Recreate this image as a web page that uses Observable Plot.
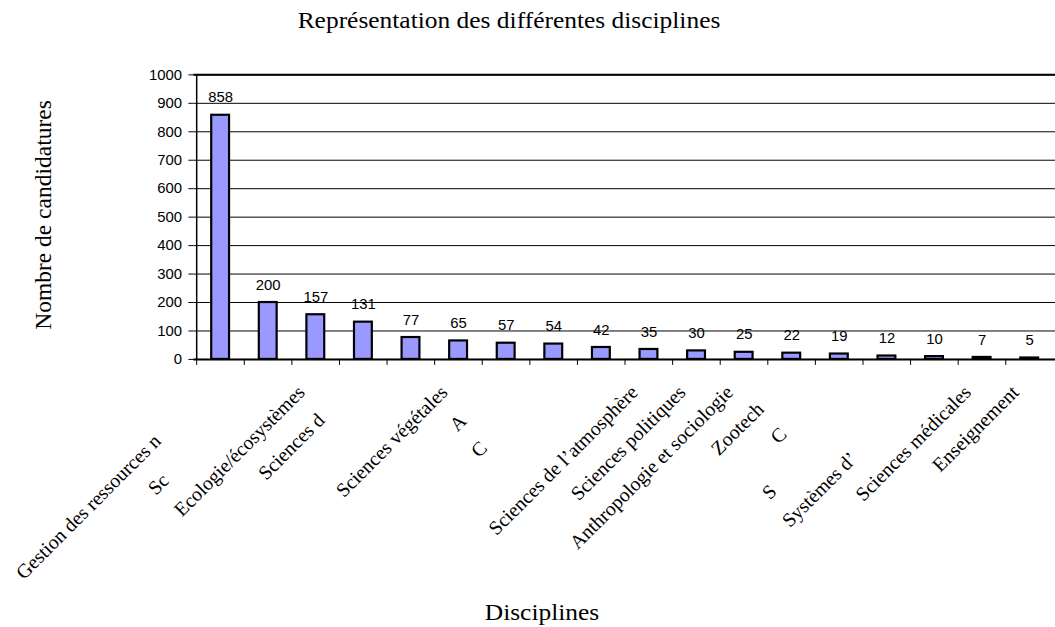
<!DOCTYPE html>
<html>
<head>
<meta charset="utf-8">
<script src="https://cdn.jsdelivr.net/npm/d3@7"></script>
<script src="https://cdn.jsdelivr.net/npm/@observablehq/plot@0.6"></script>
<style>
  html, body { margin: 0; padding: 0; background: #fff; }
  #wrap { position: relative; width: 1055px; height: 627px; overflow: hidden; background: #fff; }
  #chart { position: absolute; left: 0; top: 0; }
  .serif { font-family: "Liberation Serif", "Times New Roman", serif; color: #000; position: absolute; white-space: nowrap; }
  #title { left: 509px; top: 8px; font-size: 24px; line-height: 25px; transform: translateX(-50%) scaleX(1.06); }
  #xtitle { left: 542px; top: 600px; font-size: 24px; line-height: 25px; transform: translateX(-50%) scaleX(1.06); }
  #ytitle { left: -107px; top: 203px; width: 300px; height: 24px; line-height: 24px; font-size: 23.5px; text-align: center; transform: rotate(-90deg); }
</style>
</head>
<body>
<div id="wrap">
  <div id="chart"></div>
  <div id="title" class="serif">Représentation des différentes disciplines</div>
  <div id="ytitle" class="serif">Nombre de candidatures</div>
  <div id="xtitle" class="serif">Disciplines</div>
</div>
<script>
// ---- Data ----
const labels = [
  "Gestion des ressources n", "Sc", "Ecologie/écosystèmes", "Sciences d", "",
  "Sciences végétales", "A", "C", "", "Sciences de l’atmosphère",
  "Sciences politiques", "Anthropologie et sociologie", "Zootech", "C", "S",
  "Systèmes d’", "Sciences médicales", "Enseignement"
];
const values = [858, 200, 157, 131, 77, 65, 57, 54, 42, 35, 30, 25, 22, 19, 12, 10, 7, 5];
const yTicks = [0, 100, 200, 300, 400, 500, 600, 700, 800, 900, 1000];

// ---- Layout (not data) ----
// how far each (clipped) category label is slid down-left along its 45° line, in px
const labelShift = [49, 89, 0, 28, 0, 0, 29, 56, 0, 0, 0, 0, 17, 42, 100, 67, 0, 0];

const data = values.map((v, i) => ({i, value: v, label: labels[i]}));

const W = 1064, H = 627, ML = 195, MR = 0, MT = 75, MB = 265;
const step = (W - ML - MR) / values.length;
const padIn = 0.627;
const serif = "Liberation Serif, Times New Roman, serif";
const sans = "Liberation Sans, Arial, sans-serif";

const labelMarks = data.filter(d => d.label).map(d =>
  Plot.text([d], {
    x: "i", frameAnchor: "bottom", text: "label",
    rotate: -45, textAnchor: "end", lineAnchor: "bottom",
    dx: -10 - labelShift[d.i], dy: 34.5 + labelShift[d.i],
    fontFamily: serif, fontSize: 20, fill: "#000"
  })
);

const chart = Plot.plot({
  width: W, height: H,
  marginLeft: ML, marginRight: MR, marginTop: MT, marginBottom: MB,
  style: {background: "#fff", fontFamily: sans, fontSize: "15px", color: "#000", overflow: "visible"},
  x: {type: "band", domain: data.map(d => d.i), paddingInner: padIn, paddingOuter: padIn / 2, align: 0.5, axis: null},
  y: {domain: [0, 1000], axis: null},
  marks: [
    Plot.gridY(yTicks, {stroke: "#000", strokeOpacity: 1, strokeWidth: 1}),
    Plot.ruleY([1000], {stroke: "#000", strokeWidth: 2}),
    Plot.barY(data, {x: "i", y: "value", fill: "#9999ff", stroke: "#000", strokeWidth: 2.2}),
    Plot.ruleY([0], {stroke: "#000", strokeWidth: 2}),
    // category boundary ticks below the axis
    Plot.ruleX(data, {x: "i", y1: 0, y2: -21, dx: -step / 2, stroke: "#000", strokeWidth: 1, clip: false}),
    // vertical value axis line at the left edge of the first category
    Plot.ruleX(data.slice(0, 1), {x: "i", y1: 0, y2: 1000, dx: -step / 2, stroke: "#000", strokeWidth: 1.5}),
    Plot.axisY(yTicks, {tickSize: 5, tickPadding: 7, label: null, tickFormat: d => String(d),
      fontSize: 15, fontFamily: sans, stroke: "#000"}),
    Plot.text(data, {x: "i", y: "value", text: d => String(d.value), dy: -13, lineAnchor: "bottom",
      fontFamily: sans, fontSize: 15, fill: "#000"}),
    ...labelMarks
  ]
});
document.getElementById("chart").appendChild(chart);
</script>
</body>
</html>
